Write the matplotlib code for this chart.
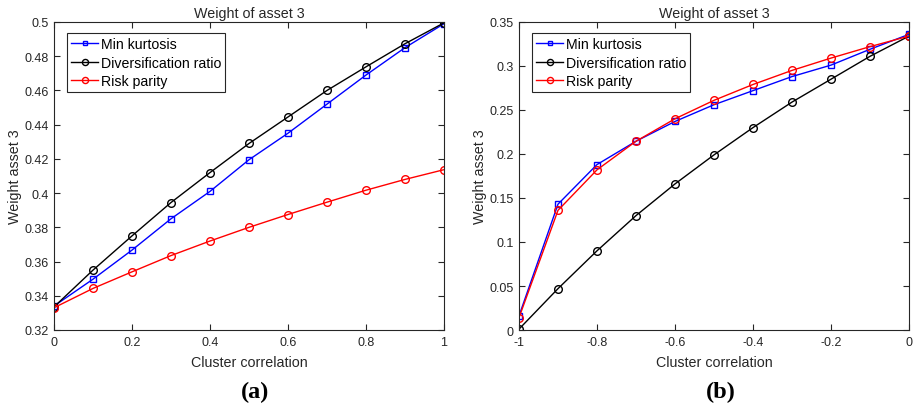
import numpy as np
import matplotlib
matplotlib.use('Agg')
import matplotlib.pyplot as plt

plt.rcParams['font.family'] = ['Liberation Sans', 'DejaVu Sans']
plt.rcParams['font.size'] = 9

# panel (a): positive cluster correlation
corr_a = [0, 0.1, 0.2, 0.3, 0.4, 0.5, 0.6, 0.7, 0.8, 0.9, 1.0]
kurt_a = [0.334, 0.3497, 0.3667, 0.385, 0.401, 0.4195, 0.435, 0.452, 0.469, 0.485, 0.499]
div_a = [0.3335, 0.355, 0.375, 0.3945, 0.412, 0.429, 0.4445, 0.460, 0.4738, 0.4873, 0.4995]
rp_a = [0.333, 0.3443, 0.354, 0.3635, 0.372, 0.380, 0.3875, 0.3947, 0.4017, 0.408, 0.4137]

# panel (b): negative cluster correlation
corr_b = [-1.0, -0.9, -0.8, -0.7, -0.6, -0.5, -0.4, -0.3, -0.2, -0.1, 0]
kurt_b = [0.016, 0.143, 0.188, 0.2145, 0.237, 0.256, 0.272, 0.288, 0.301, 0.319, 0.336]
div_b = [0.001, 0.047, 0.090, 0.130, 0.166, 0.199, 0.230, 0.259, 0.285, 0.311, 0.334]
rp_b = [0.014, 0.136, 0.182, 0.2145, 0.240, 0.261, 0.279, 0.295, 0.309, 0.322, 0.334]

xt_a = [0, 0.2, 0.4, 0.6, 0.8, 1]
xl_a = ['0', '0.2', '0.4', '0.6', '0.8', '1']
yt_a = [0.32, 0.34, 0.36, 0.38, 0.4, 0.42, 0.44, 0.46, 0.48, 0.5]
yl_a = ['0.32', '0.34', '0.36', '0.38', '0.4', '0.42', '0.44', '0.46', '0.48', '0.5']
xt_b = [-1, -0.8, -0.6, -0.4, -0.2, 0]
xl_b = ['-1', '-0.8', '-0.6', '-0.4', '-0.2', '0']
yt_b = [0, 0.05, 0.1, 0.15, 0.2, 0.25, 0.3, 0.35]
yl_b = ['0', '0.05', '0.1', '0.15', '0.2', '0.25', '0.3', '0.35']

fig = plt.figure(figsize=(9.14, 4.10), dpi=100)
W, H = 914.0, 410.0
ax1 = fig.add_axes([54 / W, 1 - 331 / H, 390 / W, 308 / H])
ax2 = fig.add_axes([519 / W, 1 - 331 / H, 390 / W, 308 / H])


def panel(ax, x, k, d, r, xt, xl, yt, yl):
    ax.plot(x, k, color='#0000ff', marker='s', ms=4.2, mfc='none', mew=1.0, lw=1.0, label='Min kurtosis')
    ax.plot(x, d, color='black', marker='o', ms=5.5, mfc='none', mew=1.0, lw=1.0, label='Diversification ratio')
    ax.plot(x, r, color='#ff0000', marker='o', ms=5.5, mfc='none', mew=1.0, lw=1.0, label='Risk parity')
    ax.set_xlim(xt[0], xt[-1])
    ax.set_ylim(yt[0], yt[-1])
    ax.set_xticks(xt)
    ax.set_xticklabels(xl)
    ax.set_yticks(yt)
    ax.set_yticklabels(yl)
    ax.tick_params(direction='in', top=True, right=True, length=4, width=0.8, labelsize=9, pad=4, colors='#262626')
    for s in ax.spines.values():
        s.set_linewidth(0.8)
        s.set_color('#262626')
    ax.set_title('Weight of asset 3', fontsize=10.3, pad=3.5, color='#262626')
    ax.set_xlabel('Cluster correlation', fontsize=10.3, color='#262626', labelpad=5.5)
    ax.set_ylabel('Weight asset 3', fontsize=10.3, color='#262626', labelpad=1.5)
    leg = ax.legend(loc='upper left', bbox_to_anchor=(0.033, 0.965), fontsize=10.2, handlelength=1.9,
                    handletextpad=0.2, borderpad=0.3, labelspacing=0.32, fancybox=False,
                    framealpha=1, edgecolor='#262626', borderaxespad=0, markerscale=0.8)
    leg.get_frame().set_linewidth(0.8)


panel(ax1, corr_a, kurt_a, div_a, rp_a, xt_a, xl_a, yt_a, yl_a)
panel(ax2, corr_b, kurt_b, div_b, rp_b, xt_b, xl_b, yt_b, yl_b)

fig.text(255 / W, 1 - 392 / H, '(a)', family=['Liberation Serif', 'DejaVu Serif'], fontweight='bold',
         fontsize=17.5, ha='center', va='center')
fig.text(721 / W, 1 - 392 / H, '(b)', family=['Liberation Serif', 'DejaVu Serif'], fontweight='bold',
         fontsize=17.5, ha='center', va='center')

fig.savefig('out.png', dpi=100)
